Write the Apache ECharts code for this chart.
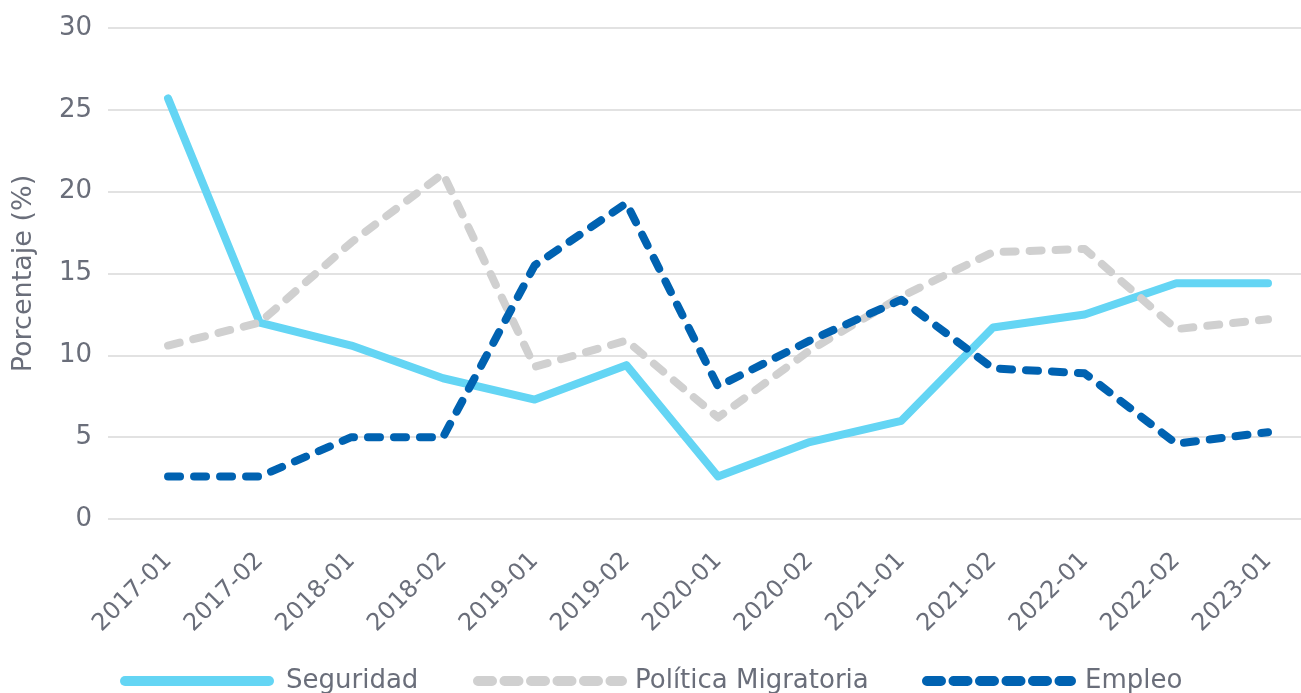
<!DOCTYPE html>
<html>
<head>
<meta charset="utf-8">
<script src="https://cdn.jsdelivr.net/npm/echarts@6/dist/echarts.min.js"></script>
<style>
html, body { margin: 0; padding: 0; background: #fff; }
#chart { width: 1301px; height: 693px; }
</style>
</head>
<body>
<div id="chart"></div>
<script>
var categories = ['2017-01', '2017-02', '2018-01', '2018-02', '2019-01', '2019-02', '2020-01',
                  '2020-02', '2021-01', '2021-02', '2022-01', '2022-02', '2023-01'];
var seguridad = [25.7, 12.0, 10.6, 8.6, 7.3, 9.4, 2.6, 4.7, 6.0, 11.7, 12.5, 14.4, 14.4];
var politica  = [10.6, 12.0, 16.9, 21.1, 9.3, 10.9, 6.2, 10.3, 13.6, 16.3, 16.5, 11.6, 12.2];
var empleo    = [2.6, 2.6, 5.0, 5.0, 15.5, 19.3, 8.1, 10.9, 13.4, 9.2, 8.9, 4.6, 5.3];

var font = '"DejaVu Sans", sans-serif';
var textColor = '#6a6e7a';
var cSeg = '#64d5f4', cPol = '#d0d0d0', cEmp = '#0062b1';

function pairs(arr) {
    return arr.map(function (v, i) { return [i, v]; });
}

// leyenda: una por serie para fijar la posicion
function legendFor(name, left, dashed, gap) {
    return {
        data: [name],
        left: left,
        top: 668,
        padding: 0,
        itemWidth: 144,
        itemHeight: 10,
        itemStyle: { opacity: 0 },
        lineStyle: { width: 10, cap: 'round', type: dashed ? [14, 12.5] : 'solid' },
        textStyle: { fontFamily: font, fontSize: 26, color: textColor, padding: [0, 0, 0, gap] }
    };
}

var myChart = echarts.init(document.getElementById('chart'));

var dash = [12, 14];

option = {
    animation: false,
    grid: {
        left: 108,
        right: 0,
        top: 28,
        bottom: 174
    },
    legend: [
        legendFor('Seguridad', 120, false, 12),
        legendFor('Política Migratoria', 473, true, 8),
        legendFor('Empleo', 922, true, 9)
    ],
    xAxis: {
        type: 'value',
        min: -0.655,
        max: 12.36,
        axisLine: { show: false },
        axisTick: { show: false },
        splitLine: { show: false },
        axisLabel: {
            customValues: categories.map(function (c, i) { return i; }),
            formatter: function (v) { return categories[Math.round(v)]; },
            rotate: 45,
            fontFamily: font,
            fontSize: 24,
            color: textColor,
            margin: 38
        }
    },
    yAxis: {
        type: 'value',
        min: 0,
        max: 30,
        interval: 5,
        name: 'Porcentaje (%)',
        nameLocation: 'middle',
        nameGap: 71,
        nameTextStyle: { fontFamily: font, fontSize: 27, color: textColor },
        axisLine: { show: false },
        axisTick: { show: false },
        axisLabel: {
            fontFamily: font,
            fontSize: 26,
            color: textColor,
            margin: 16
        },
        splitLine: { lineStyle: { color: '#d9d9d9', width: 1.5 } }
    },
    series: [{
        name: 'Seguridad',
        type: 'line',
        symbol: 'none',
        data: pairs(seguridad),
        itemStyle: { color: cSeg },
        lineStyle: { color: cSeg, width: 8, cap: 'round', join: 'round' }
    }, {
        name: 'Política Migratoria',
        type: 'line',
        symbol: 'none',
        data: pairs(politica),
        itemStyle: { color: cPol },
        lineStyle: { color: cPol, width: 8, type: dash, cap: 'round', join: 'round' }
    }, {
        name: 'Empleo',
        type: 'line',
        symbol: 'none',
        data: pairs(empleo),
        itemStyle: { color: cEmp },
        lineStyle: { color: cEmp, width: 8, type: dash, cap: 'round', join: 'round' }
    }]
};

myChart.setOption(option);
</script>
</body>
</html>
